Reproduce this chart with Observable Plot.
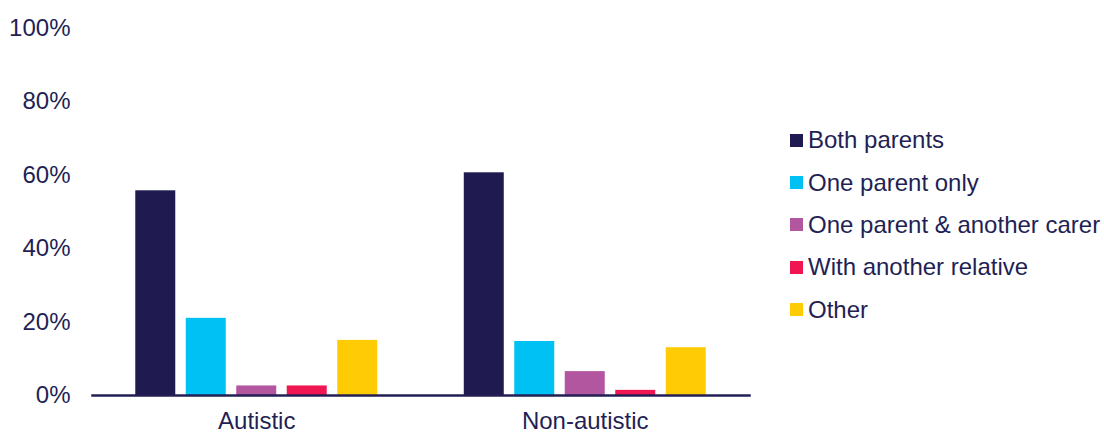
<!DOCTYPE html>
<html>
<head>
<meta charset="utf-8">
<script src="https://cdn.jsdelivr.net/npm/d3@7"></script>
<script src="https://cdn.jsdelivr.net/npm/@observablehq/plot@0.6"></script>
<style>
  html, body { margin: 0; padding: 0; background: #fff; }
  #wrap { position: relative; width: 1104px; height: 433px; overflow: hidden; }
  #legend { position: absolute; left: 790px; top: 119px; }
  .lg-swatches { margin: 0 !important; }
  .lg-swatch { height: 42.4px; padding-bottom: 0 !important; white-space: nowrap; }
  .lg-swatch svg { margin-right: 5px !important; }
  .lg-swatch > div, .lg-swatch-label { max-width: none !important; overflow: visible !important; }
</style>
</head>
<body>
<div id="wrap"><div id="plot"></div><div id="legend"></div></div>
<script>
// Living arrangements of children, by group (% of children)
const groups = ["Autistic", "Non-autistic"];
const arrangements = ["Both parents", "One parent only", "One parent & another carer", "With another relative", "Other"];
const autisticValues = [55.7, 21.0, 2.6, 2.6, 15.0];
const nonAutisticValues = [60.6, 14.7, 6.5, 1.4, 13.0];
const colors = ["#1f1a50", "#00c1f3", "#b1569f", "#ef1651", "#ffcb05"];
const yTicks = [0, 20, 40, 60, 80, 100];

const ink = "#231f55";
const font = "'Liberation Sans', Arial, sans-serif";

const data = [
  ...arrangements.map((a, i) => ({group: groups[0], arrangement: a, value: autisticValues[i]})),
  ...arrangements.map((a, i) => ({group: groups[1], arrangement: a, value: nonAutisticValues[i]}))
];

const color = {type: "ordinal", domain: arrangements, range: colors};

const chart = Plot.plot({
  width: 1104,
  height: 433,
  marginLeft: 92,
  marginRight: 355,
  marginTop: 27.5,
  marginBottom: 38,
  style: {fontFamily: font, fontSize: "24px", color: ink, background: "transparent", overflow: "visible"},
  fx: {domain: groups, padding: 0, round: false, label: null, axis: "bottom", tickSize: 0, tickPadding: 16.5},
  x: {domain: arrangements, paddingInner: 0.208, paddingOuter: 0.857, round: false, axis: null},
  y: {domain: [0, 100], ticks: yTicks, tickSize: 0, tickPadding: 22, tickFormat: d => d + "%", label: null},
  color,
  marks: [
    Plot.barY(data, {fx: "group", x: "arrangement", y: "value", fill: "arrangement"}),
    // one continuous baseline (bottom of the frame = 0%) across both groups
    Plot.frame({anchor: "bottom", facet: "super", stroke: ink, strokeWidth: 2.5})
  ]
});
document.getElementById("plot").appendChild(chart);

const legend = Plot.legend({
  color,
  legend: "swatches",
  columns: 1,
  swatchSize: 13,
  className: "lg",
  style: {fontFamily: font, fontSize: "24px", color: ink}
});
document.getElementById("legend").appendChild(legend);
</script>
</body>
</html>
